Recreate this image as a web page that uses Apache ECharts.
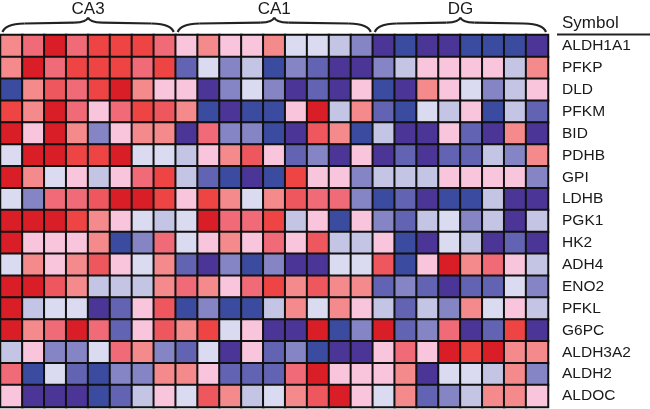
<!DOCTYPE html>
<html>
<head>
<meta charset="utf-8">
<script src="https://cdn.jsdelivr.net/npm/echarts@6/dist/echarts.min.js"></script>
<style>
html,body{margin:0;padding:0;background:#fff;}
#chart{width:650px;height:409px;}
</style>
</head>
<body>
<div id="chart"></div>
<script>
// Gene symbols (rows, top to bottom)
const genes = ['ALDH1A1','PFKP','DLD','PFKM','BID','PDHB','GPI','LDHB','PGK1','HK2','ADH4','ENO2','PFKL','G6PC','ALDH3A2','ALDH2','ALDOC'];
// Sample columns
const samples = Array.from({length:25}, (_, i) => 'S' + (i + 1));
// Region groups (column index ranges)
const groupNames = ['CA3','CA1','DG'];
const groupStart = [0, 8, 17];
const groupEnd   = [7, 16, 24];

// Relative expression scores per gene (-5 low/blue ... +5 high/red), one per sample column
const v_ALDH1A1 = [2,3,5,3,4,4,4,3, 1,2,1,1,2,0,0,-1,-2, -5,-4,-5,-5,-4,-4,-4,-5];
const v_PFKP    = [2,5,3,4,4,4,3,4, -3,0,-2,-1,-4,-2,-3,-5,-5, -2,-1,1,1,1,1,-1,2];
const v_DLD     = [-4,2,3.5,3,4,5,2,1, 1,-5,-2,0,-2,-5,-3,-5,1, -4,-5,2,1,0,-2,-1,1];
const v_PFKM    = [4,2,5,3,1,3,4,3.5, 2,-4,-5,-4,-4,1,5,-1,2, -3,-4,0,-1,1,-4,-1,-3];
const v_BID     = [5,1,5,2,-2,1,2,2, -5,3,-2,-2,-4,-5,3.5,2,-4, -1,-5,-5,1,-3,-5,2,-5];
const v_PDHB    = [0,5,5,4,4,5,0,0, -1,1,2,3.5,1,-3,-2,-5,1, -5,-3,-5,-3,-3,-1,-2,2];
const v_GPI     = [5,2,0,1,-1,1,3,4, -1,-3,-4,-5,-4,4,1,1,-2, -1,-1,-1,1,1,1,1,-2];
const v_LDHB    = [0,-2,3,3,3.5,5,5,4, 1,4,2,0,2,3.5,3,3,-2, -4,-3,-5,-4,-4,-1,-5,-5];
const v_PGK1    = [5,5,5,4,2,1,0,-1, 0,5,3,3,4,-1,1,-4,1, -2,-3,-1,0,-2,-1,-5,-1];
const v_HK2     = [5,1,1,1,2,-4,-2,3, 0,1,2,1,3,1,3.5,-1,-1, 1,-4,-5,0,-1,-5,-3,-5];
const v_ADH4    = [0,2,1,2,3.5,1,0,2, -3,-5,-2,-4,-2,-5,-5,0,0, 3.5,-4,1,5,2,3,1,-1];
const v_ENO2    = [5,5,3.5,2,-1,-1,-1,2, 3,2,1,3,4,2,3.5,2,2, -3,-2,-3,-5,-3,-3,0,-2];
const v_PFKL    = [5,-1,0,0,-5,-3,1,3.5, -4,-2,-4,-4,-1,2,0,2,1, -1,-3,-1,-2,2,0,1,-1];
const v_G6PC    = [5,2,3,5,3,-3,1,3.5, 2,4,0,1,-5,-5,5,-4,-2, 5,-3,-2,3,-5,-3,4,-5];
const v_ALDH3A2 = [-1,1,-2,-2,0,3,2,-2, -3,0,-5,1,-3,-2,-4,-5,-5, 1,3,1,5,4,5,2,2];
const v_ALDH2   = [3,-4,0,-3,-4,-2,-2,2, 2,1,-3,-3,-3,3,5,1,1, 1,2,-5,0,0,-1,2,-2];
const v_ALDOC   = [1,-5,-5,-5,-4,-3,-1,1, 0,3.5,2,-1,0,2,3.5,5,1, 0,2,-3,-2,-1,2,2,1];

const rows = [v_ALDH1A1,v_PFKP,v_DLD,v_PFKM,v_BID,v_PDHB,v_GPI,v_LDHB,v_PGK1,v_HK2,v_ADH4,v_ENO2,v_PFKL,v_G6PC,v_ALDH3A2,v_ALDH2,v_ALDOC];

const data = [];
rows.forEach((r, yi) => r.forEach((v, xi) => data.push([xi, yi, v])));

const FONT = '"Liberation Sans", Arial, Helvetica, sans-serif';
const chart = echarts.init(document.getElementById('chart'), null, {renderer: 'canvas'});

const option = {
  animation: false,
  backgroundColor: '#ffffff',
  grid: {left: 0.5, top: 35, width: 547.5, height: 372},
  xAxis: {
    type: 'category', data: samples,
    axisLine: {show: false}, axisTick: {show: false}, axisLabel: {show: false}, splitLine: {show: false}
  },
  yAxis: {
    type: 'category', data: genes, inverse: true, position: 'right',
    axisLine: {show: false}, axisTick: {show: false}, splitLine: {show: false},
    axisLabel: {margin: 14, fontSize: 15.5, color: '#1a1a1a', fontFamily: FONT, align: 'left'}
  },
  visualMap: {
    show: false, min: -5, max: 5, dimension: 2,
    inRange: {color: ['#4b3597','#3b4b9f','#6363b3','#8585c5','#c4c4e4','#dadaf0','#f9c5dc','#f48a8c','#f06a78','#ee4444','#d91e27']}
  },
  series: [{
    type: 'heatmap', data: data,
    itemStyle: {borderColor: '#111', borderWidth: 2},
    emphasis: {disabled: true}
  }]
};
chart.setOption(option);

// Braces and group labels, positioned from the category axis
const graphics = [];
function colCenter(i) { return chart.convertToPixel({xAxisIndex: 0}, i); }
function rowCenter(i) { return chart.convertToPixel({yAxisIndex: 0}, i); }
const half = (colCenter(1) - colCenter(0)) / 2;
const yTop = rowCenter(0) - (rowCenter(1) - rowCenter(0)) / 2;
const braceStyle = {stroke: '#222', lineWidth: 2.2, fill: null};
function curve(p0, c1, c2, p1) {
  graphics.push({type: 'bezierCurve', silent: true,
    shape: {x1: p0[0], y1: p0[1], cpx1: c1[0], cpy1: c1[1], cpx2: c2[0], cpy2: c2[1], x2: p1[0], y2: p1[1]},
    style: braceStyle});
}
function seg(p0, p1) {
  graphics.push({type: 'line', silent: true, shape: {x1: p0[0], y1: p0[1], x2: p1[0], y2: p1[1]}, style: braceStyle});
}
groupNames.forEach((name, g) => {
  const x0 = colCenter(groupStart[g]) - half + 2;
  const x1 = colCenter(groupEnd[g]) + half - 2;
  const xc = (x0 + x1) / 2;
  const yb = yTop - 3, yf = yTop - 11.5, yp = yTop - 17.5;
  curve([x0, yb], [x0 + 2, yf + 3], [x0 + 8, yf + 0.6], [x0 + 22, yf]);
  seg([x0 + 22, yf], [xc - 14, yf - 0.8]);
  curve([xc - 14, yf - 0.8], [xc - 5, yf - 1.2], [xc - 1, yf - 2.5], [xc, yp]);
  curve([xc, yp], [xc + 1, yf - 2.5], [xc + 5, yf - 1.2], [xc + 14, yf - 0.8]);
  seg([xc + 14, yf - 0.8], [x1 - 22, yf]);
  curve([x1 - 22, yf], [x1 - 8, yf + 0.6], [x1 - 2, yf + 3], [x1, yb]);
  graphics.push({type: 'text', x: xc, y: 9, style: {text: name, fontSize: 17, fontFamily: FONT, fill: '#1a1a1a', textAlign: 'center', textVerticalAlign: 'middle'}});
});
const gridRight = colCenter(samples.length - 1) + half;
graphics.push({type: 'text', x: gridRight + 14, y: 23.5, style: {text: 'Symbol', fontSize: 17, fontFamily: FONT, fill: '#1a1a1a', textAlign: 'left', textVerticalAlign: 'middle'}});
graphics.push({type: 'line', shape: {x1: gridRight + 9, y1: yTop - 0.5, x2: 650, y2: yTop - 0.5}, style: {stroke: '#222', lineWidth: 2}});
chart.setOption({graphic: graphics});
</script>
</body>
</html>
